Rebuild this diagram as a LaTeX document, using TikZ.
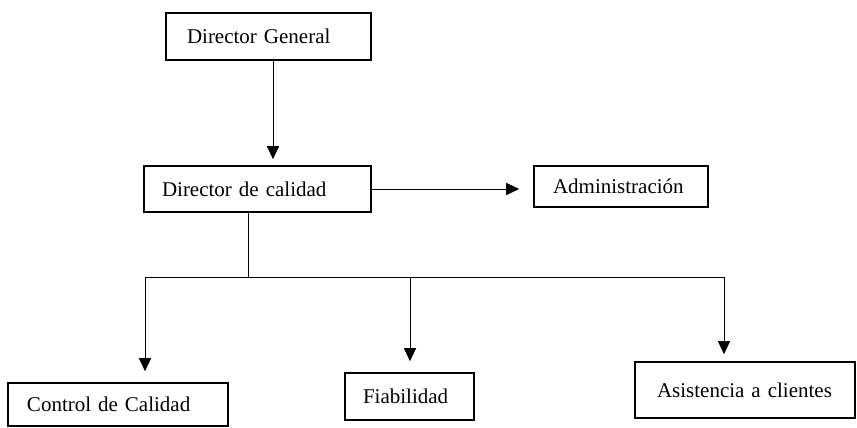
\documentclass[tikz,border=0pt]{standalone}
\usepackage{fontspec}
\setmainfont{Liberation Serif}
\usetikzlibrary{arrows.meta}
\begin{document}
\begin{tikzpicture}[x=1pt,y=-1pt,
  orgbox/.style={draw, line width=1.6pt, inner ysep=0pt, align=left,
    font=\fontsize{21}{24}\selectfont},
  link/.style={line width=1pt},
  arr/.style={line width=1pt, -{Triangle[length=13pt,width=12pt]}}]
\useasboundingbox (0,0) rectangle (857,428);
\node[orgbox, text width=163pt, inner xsep=21pt, minimum height=47pt] (dg) at (268.5,36.5) {Director General};
\node[orgbox, text width=191pt, inner xsep=18pt, minimum height=46pt] (dc) at (257.5,189) {Director de calidad};
\node[orgbox, text width=136pt, inner xsep=19pt, minimum height=41pt] (adm) at (621,186.5) {Administración};
\node[orgbox, text width=182pt, inner xsep=19pt, minimum height=43pt] (cc) at (118,404.5) {Control de Calidad};
\node[orgbox, text width=93pt, inner xsep=18pt, minimum height=47pt] (fia) at (409.5,396.5) {Fiabilidad};
\node[orgbox, text width=176pt, inner xsep=22pt, minimum height=56pt] (ac) at (745,390) {Asistencia a clientes};
\coordinate (j) at (248,277);
\coordinate (l) at (145,277);
\coordinate (m) at (410,277);
\coordinate (r) at (724,277);
\draw[arr, shorten >=6pt] ([xshift=4.5pt]dg.south) -- ([xshift=15.5pt]dc.north);
\draw[arr, shorten >=14pt] (dc.east) -- (dc.east -| adm.west);
\draw[link] (dc.south -| j) -- (j);
\draw[link] (l) -- (r);
\draw[arr, shorten >=11pt] (l) -- (cc.north -| l);
\draw[arr, shorten >=11pt] (m) -- (fia.north -| m);
\draw[arr, shorten >=7pt] (r) -- (ac.north -| r);
\end{tikzpicture}
\end{document}
